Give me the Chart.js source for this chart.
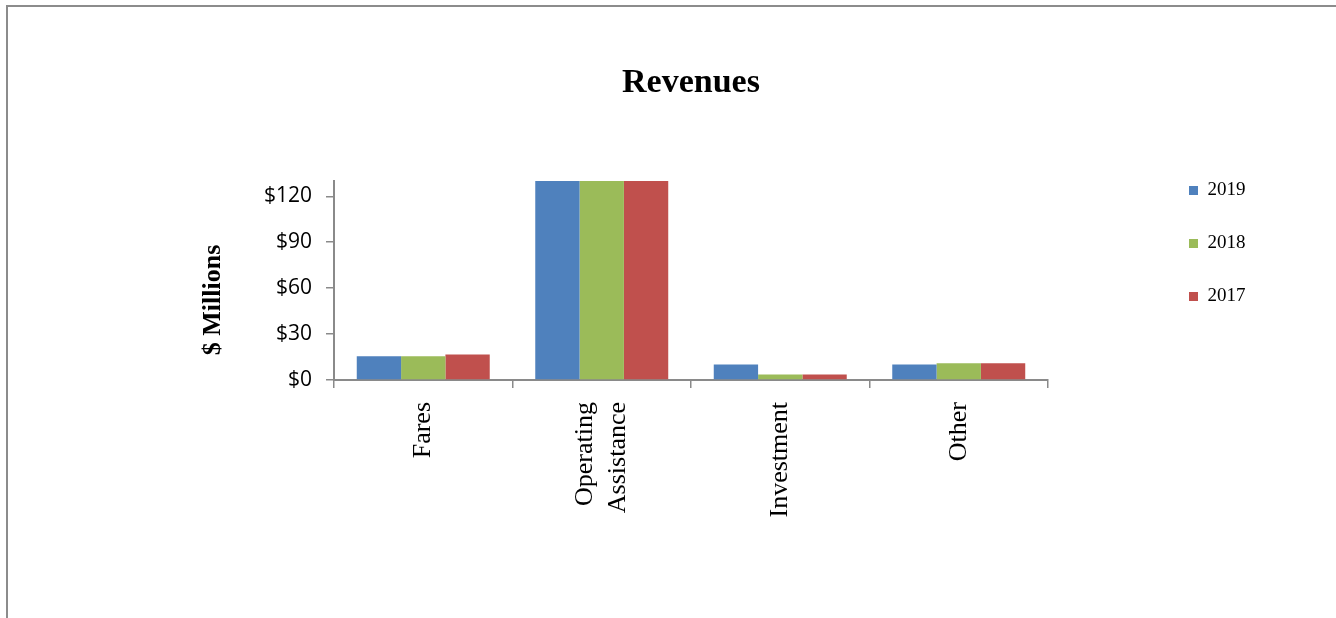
<!DOCTYPE html>
<html><head><meta charset="utf-8">
<script src="https://cdn.jsdelivr.net/npm/chart.js@4"></script>
<style>
html,body{margin:0;padding:0;background:#fff;overflow:hidden;width:1336px;height:618px}
#frame{position:absolute;left:6px;top:5px;width:1400px;height:700px;border-top:2px solid #8c8c8c;border-left:2px solid #8c8c8c;box-sizing:border-box}
#c{position:absolute;left:0;top:0}
</style></head><body>
<div id="frame"></div>
<canvas id="c" width="1336" height="618"></canvas>
<script>
// ---- data ----
const chartTitle = 'Revenues';
const yAxisTitle = '$ Millions';
const categories = ['Fares', ['Operating', 'Assistance'], 'Investment', 'Other'];
const seriesNames = ['2019', '2018', '2017'];
const values2019 = [15.5, 135, 10.2, 10.2];
const values2018 = [15.5, 135, 3.6, 11.0];
const values2017 = [16.6, 135, 3.6, 11.0];
const seriesColors = ['#4F81BD', '#9BBB59', '#C0504D'];
const yMin = 0, yMax = 130, yStep = 30;
const yTickPrefix = '$';

Chart.defaults.font.family = 'Liberation Serif';
const axisGray = '#8a8a8a';
const xFontSize = 26, xLineHeight = 1.3;

const legendPlace = {
  id: 'legendPlace',
  afterLayout(chart) {
    const lg = chart.legend;
    const p = lg.options.labels.padding;
    const w = lg.width, h = lg.height;
    lg.left = 1189 - p; lg.top = chart.chartArea.top - p;
    lg.right = lg.left + w; lg.bottom = lg.top + h;
  }
};
const multiLineFix = {
  id: 'multiLineFix',
  beforeDraw(chart) {
    const items = chart.scales.x.getLabelItems();
    const lh = xFontSize * xLineHeight;
    items.forEach(it => {
      if (Array.isArray(it.label) && !it._fixed) {
        it.textOffset -= (it.label.length - 1) * lh / 2;
        it._fixed = true;
      }
    });
  }
};
const yTitlePlugin = {
  id: 'yTitlePlugin',
  afterDraw(chart) {
    const ctx = chart.ctx, a = chart.chartArea;
    ctx.save();
    ctx.translate(a.left - 121, a.bottom - 80);
    ctx.rotate(-Math.PI / 2);
    ctx.font = 'bold 26px "Liberation Serif"';
    ctx.fillStyle = '#000';
    ctx.textAlign = 'center';
    ctx.textBaseline = 'middle';
    ctx.fillText(yAxisTitle, 0, 0);
    ctx.restore();
  }
};

const seriesValues = [values2019, values2018, values2017];
new Chart(document.getElementById('c'), {
  type: 'bar',
  data: {
    labels: categories,
    datasets: seriesNames.map((n, i) => ({
      label: n,
      data: seriesValues[i],
      backgroundColor: seriesColors[i],
      borderWidth: 0,
      categoryPercentage: 0.745,
      barPercentage: 1,
      clip: 0
    }))
  },
  options: {
    responsive: false,
    animation: false,
    devicePixelRatio: 1,
    layout: { padding: { left: 0, top: 0, right: 288, bottom: 0 } },
    plugins: {
      title: {
        display: true, text: chartTitle, fullSize: false, color: '#000',
        font: { family: 'Liberation Serif', size: 34, weight: 'bold', lineHeight: 1.2 },
        padding: { top: 63, bottom: 77.2 }
      },
      legend: {
        position: 'chartArea', align: 'start',
        labels: { boxWidth: 9, boxHeight: 9, padding: 34, color: '#000',
          font: { family: 'Liberation Serif', size: 19 } }
      },
      tooltip: { enabled: false }
    },
    scales: {
      x: {
        grid: { display: true, drawOnChartArea: false, drawTicks: true, tickLength: 8, lineWidth: 1.5, color: axisGray, offset: true },
        border: { color: axisGray, width: 2 },
        ticks: { autoSkip: false, minRotation: 90, maxRotation: 90, padding: 14, color: '#000',
          font: { family: 'Liberation Serif', size: xFontSize, lineHeight: xLineHeight } },
        afterFit(s) { s.height = 238; }
      },
      y: {
        min: yMin, max: yMax,
        grid: { drawOnChartArea: false, drawTicks: true, tickLength: 8, lineWidth: 1.5, color: axisGray },
        border: { color: axisGray, width: 2 },
        ticks: { stepSize: yStep, includeBounds: false, padding: 14, color: '#000',
          font: { family: 'Open Sans', size: 21 },
          callback: v => yTickPrefix + v },
        afterFit(s) { s.width = 334; }
      }
    }
  },
  plugins: [legendPlace, multiLineFix, yTitlePlugin]
});
</script>
</body></html>
